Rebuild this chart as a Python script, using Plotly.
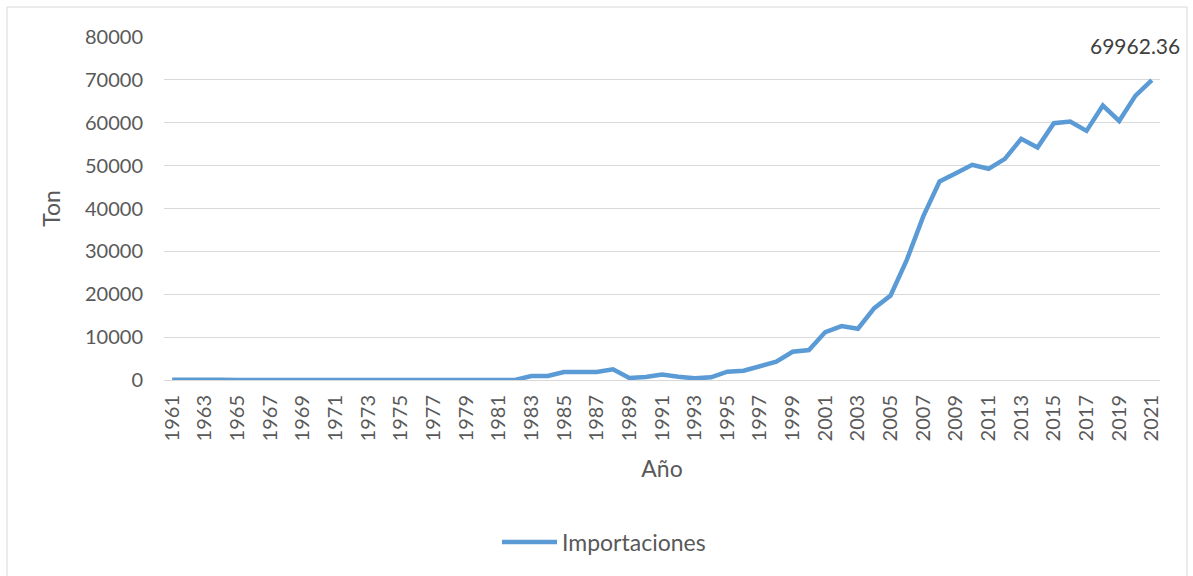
import plotly.graph_objects as go

years = [str(y) for y in range(1961, 2022)]
importaciones = [
    60, 150, 150, 80, 20, 0, 0, 0, 0, 0,          # 1961-1970
    0, 0, 0, 0, 0, 0, 0, 0, 0, 0,                 # 1971-1980
    0, 0, 930, 930, 1870, 1870, 1870, 2490, 470, 700,   # 1981-1990
    1300, 750, 390, 620, 1940, 2170, 3180, 4270, 6590, 6980,  # 1991-2000
    11170, 12570, 11950, 16760, 19700, 28080, 38170, 46310, 48250, 50190,  # 2001-2010
    49260, 51590, 56250, 54230, 59890, 60280, 58110, 64000, 60430, 66330,  # 2011-2020
    69962.36,  # 2021
]
tick_years = years[::2]
y_ticks = [0, 10000, 20000, 30000, 40000, 50000, 60000, 70000, 80000]
y_ticktext = [str(v) for v in y_ticks]

FONT = "Lato"
GREY = "#595959"

fig = go.Figure()
fig.add_trace(go.Scatter(
    x=years, y=importaciones, mode="lines", name="Importaciones",
    line=dict(color="#5B9BD5", width=4.5),
))

fig.add_annotation(
    x=len(years) - 1, y=importaciones[-1], text=f"{importaciones[-1]:.2f}",
    showarrow=False, yshift=35, xshift=-17,
    font=dict(family=FONT, size=21, color="#404040"),
)

L, R, T, B = 164, 33, 37, 196
W, H = 1193, 576
pw, ph = W - L - R, H - T - B

# chart border
fig.add_shape(type="rect", xref="paper", yref="paper",
              x0=(7 - L) / pw, x1=(1187 - L) / pw,
              y0=-(H + 5 - T - ph) / ph, y1=1 + (T - 7) / ph,
              line=dict(color="#D9D9D9", width=1), layer="below")

fig.update_layout(
    width=W, height=H,
    margin=dict(l=L, r=R, t=T, b=B),
    paper_bgcolor="white", plot_bgcolor="white",
    font=dict(family=FONT, color=GREY),
    showlegend=True,
    legend=dict(orientation="h", x=(497 - L) / pw, xanchor="left",
                y=-(542 - T - ph) / ph, yanchor="middle",
                font=dict(family=FONT, size=23, color=GREY),
                itemwidth=55),
    xaxis=dict(
        type="category", range=[-0.5, 60.5],
        tickmode="array", tickvals=tick_years, ticktext=tick_years,
        tickangle=-90, tickfont=dict(size=20, color=GREY),
        showgrid=False, showline=False, ticks="", ticklabelstandoff=10,
        title=dict(text="Año", font=dict(size=23, color=GREY), standoff=20),
    ),
    yaxis=dict(
        range=[0, 80000], tickvals=y_ticks, ticktext=y_ticktext,
        tickfont=dict(size=20, color=GREY),
        showgrid=True, gridcolor="#D9D9D9", gridwidth=1,
        zeroline=True, zerolinecolor="#D9D9D9", zerolinewidth=1,
        showline=False, ticks="", ticklabelstandoff=20,
        title=dict(text="Ton", font=dict(size=23, color=GREY), standoff=17),
    ),
)

fig.write_html("out.html", config={"displayModeBar": False},
               post_script="document.body.style.margin='0';")
